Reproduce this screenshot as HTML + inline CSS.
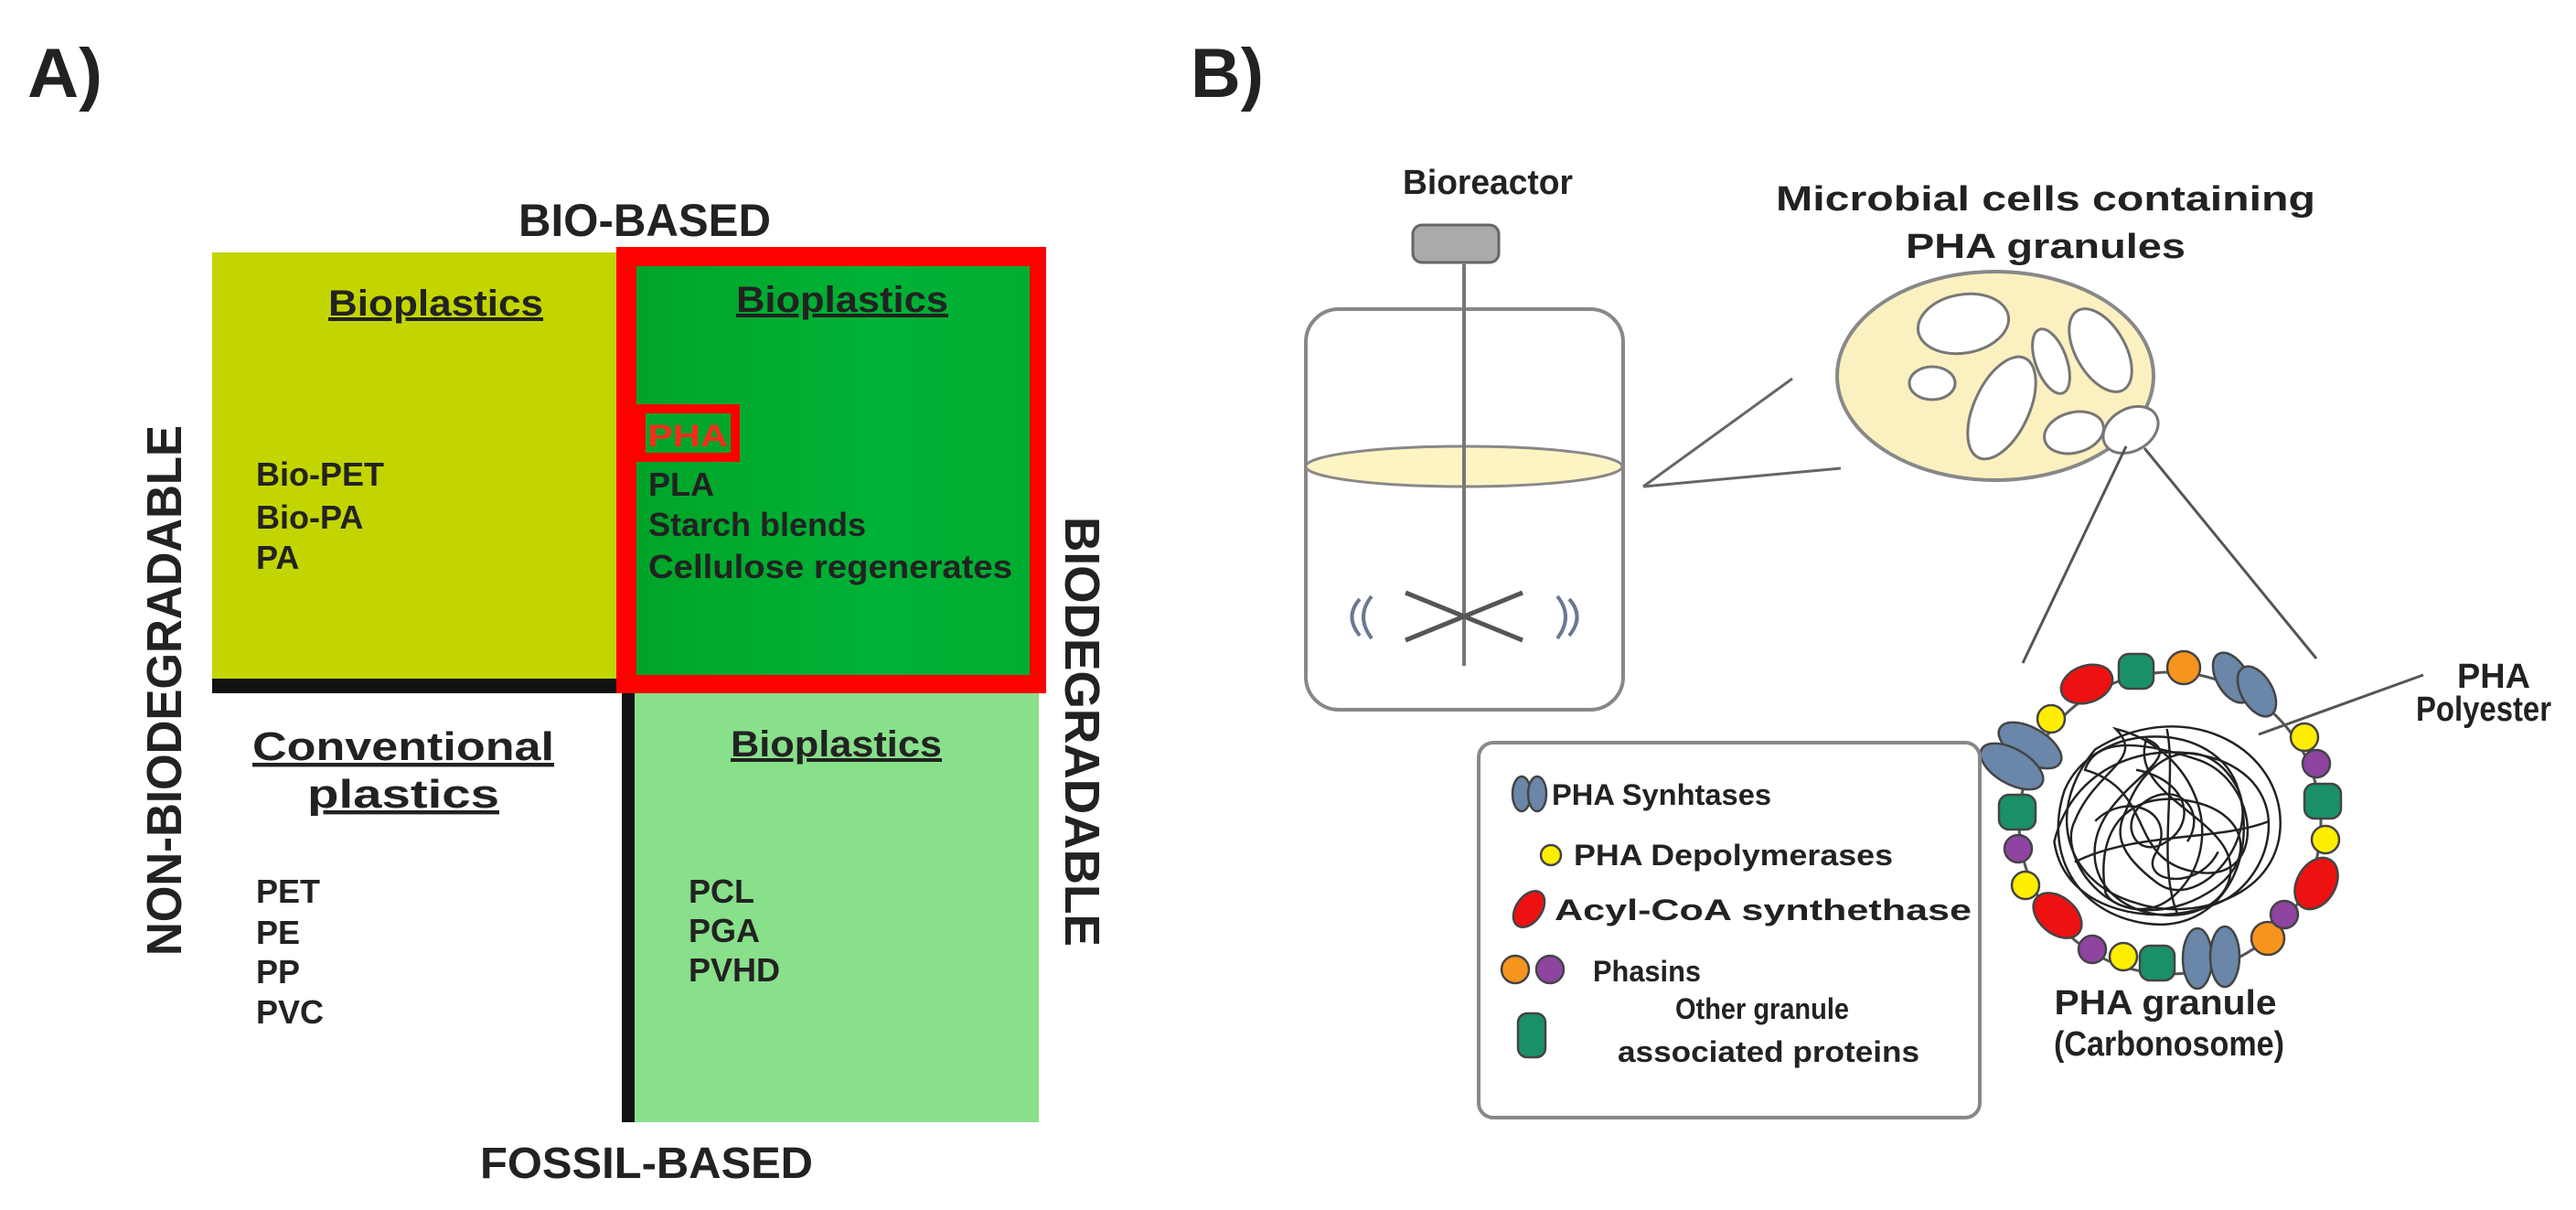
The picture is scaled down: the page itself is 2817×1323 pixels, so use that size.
<!DOCTYPE html>
<html><head><meta charset="utf-8"><style>html,body{margin:0;padding:0;background:#fff}svg{display:block}text{font-family:"Liberation Sans",Arial,sans-serif;font-weight:bold;fill:#222}</style></head>
<body>
<svg width="2817" height="1323" viewBox="0 0 2817 1323" xmlns="http://www.w3.org/2000/svg">
<!-- Panel A -->
<text x="30" y="106" font-size="76" textLength="82" lengthAdjust="spacingAndGlyphs">A)</text>
<text x="567" y="258" font-size="50" textLength="276" lengthAdjust="spacingAndGlyphs">BIO-BASED</text>
<rect x="232" y="276" width="446" height="470" fill="#c3d500"/>
<rect x="232" y="742" width="452" height="16" fill="#111"/>
<rect x="694" y="758" width="442" height="469" fill="#88e08a"/>
<rect x="680" y="752" width="14" height="475" fill="#111"/>
<rect x="674" y="270" width="470" height="488" fill="#ff0000"/>
<defs><linearGradient id="g1" x1="0" x2="1" y1="0" y2="0"><stop offset="0" stop-color="#00a428"/><stop offset="0.6" stop-color="#00b236"/><stop offset="1" stop-color="#00ad30"/></linearGradient></defs>
<rect x="696" y="291" width="430" height="447" fill="url(#g1)"/>
<rect x="690" y="442" width="119" height="63" fill="#ff0000"/>
<rect x="706" y="452" width="93" height="43" fill="#00a52a"/>
<text x="708" y="488" font-size="34" style="fill:#ff2a1a" textLength="88" lengthAdjust="spacingAndGlyphs">PHA</text>

<text x="359" y="345" font-size="40" text-decoration="underline" textLength="235" lengthAdjust="spacingAndGlyphs">Bioplastics</text>
<text x="805" y="341" font-size="40" text-decoration="underline" textLength="232" lengthAdjust="spacingAndGlyphs">Bioplastics</text>
<text x="799" y="827" font-size="40" text-decoration="underline" textLength="231" lengthAdjust="spacingAndGlyphs">Bioplastics</text>
<text x="276" y="831" font-size="44" text-decoration="underline" textLength="330" lengthAdjust="spacingAndGlyphs">Conventional</text>
<text x="336" y="883" font-size="44" text-decoration="underline" textLength="210" lengthAdjust="spacingAndGlyphs"> plastics</text>

<g font-size="36">
<text x="280" y="531">Bio-PET</text>
<text x="280" y="578">Bio-PA</text>
<text x="280" y="622">PA</text>
<text x="709" y="542">PLA</text>
<text x="709" y="586">Starch blends</text>
<text x="709" y="632" textLength="398" lengthAdjust="spacingAndGlyphs">Cellulose regenerates</text>
<text x="280" y="987">PET</text>
<text x="280" y="1032">PE</text>
<text x="280" y="1075">PP</text>
<text x="280" y="1119">PVC</text>
<text x="753" y="987">PCL</text>
<text x="753" y="1030">PGA</text>
<text x="753" y="1073">PVHD</text>
</g>
<text x="525" y="1288" font-size="48" textLength="364" lengthAdjust="spacingAndGlyphs">FOSSIL-BASED</text>
<text transform="translate(198,755) rotate(-90)" text-anchor="middle" font-size="54" textLength="580" lengthAdjust="spacingAndGlyphs">NON-BIODEGRADABLE</text>
<text transform="translate(1165,800) rotate(90)" text-anchor="middle" font-size="54" textLength="470" lengthAdjust="spacingAndGlyphs">BIODEGRADABLE</text>

<!-- Panel B -->
<text x="1302" y="106" font-size="76" textLength="80" lengthAdjust="spacingAndGlyphs">B)</text>
<text x="1534" y="212" font-size="38" textLength="186" lengthAdjust="spacingAndGlyphs">Bioreactor</text>
<rect x="1545" y="246" width="94" height="41" rx="10" fill="#a9aaac" stroke="#666" stroke-width="3"/>
<rect x="1428" y="338" width="347" height="438" rx="36" fill="#fff" stroke="#888" stroke-width="4"/>
<ellipse cx="1601" cy="510" rx="173" ry="22" fill="#fdf4c4" stroke="#888" stroke-width="3"/>
<line x1="1601" y1="287" x2="1601" y2="728" stroke="#777" stroke-width="4"/>
<line x1="1537" y1="648" x2="1665" y2="700" stroke="#555" stroke-width="5"/>
<line x1="1537" y1="700" x2="1665" y2="648" stroke="#555" stroke-width="5"/>
<g fill="none" stroke="#6a7890" stroke-width="4">
<path d="M1487 655 Q1470 674 1487 695"/><path d="M1500 652 Q1482 674 1500 698"/>
<path d="M1716 655 Q1733 674 1716 695"/><path d="M1703 652 Q1721 674 1703 698"/>
</g>
<line x1="1797" y1="532" x2="1960" y2="414" stroke="#666" stroke-width="3"/>
<line x1="1797" y1="532" x2="2013" y2="512" stroke="#666" stroke-width="3"/>

<text x="2237" y="230" font-size="38" text-anchor="middle" textLength="590" lengthAdjust="spacingAndGlyphs">Microbial cells containing</text>
<text x="2237" y="282" font-size="38" text-anchor="middle" textLength="306" lengthAdjust="spacingAndGlyphs">PHA granules</text>
<ellipse cx="2182" cy="411" rx="173" ry="114" fill="#fbf0c0" stroke="#888" stroke-width="4"/>
<g fill="#fff" stroke="#777" stroke-width="3">
<ellipse cx="2147" cy="354" rx="50" ry="32" transform="rotate(-10 2147 354)"/>
<ellipse cx="2113" cy="419" rx="25" ry="18"/>
<ellipse cx="2189" cy="446" rx="30" ry="60" transform="rotate(25 2189 446)"/>
<ellipse cx="2243" cy="395" rx="17" ry="37" transform="rotate(-20 2243 395)"/>
<ellipse cx="2297" cy="383" rx="27" ry="50" transform="rotate(-30 2297 383)"/>
<ellipse cx="2268" cy="473" rx="33" ry="22" transform="rotate(-15 2268 473)"/>
<ellipse cx="2330" cy="470" rx="32" ry="23" transform="rotate(-30 2330 470)"/>
</g>
<line x1="2325" y1="488" x2="2212" y2="725" stroke="#555" stroke-width="3"/>
<line x1="2345" y1="490" x2="2533" y2="720" stroke="#555" stroke-width="3"/>

<!-- granule -->
<g transform="translate(0,38)">
<circle cx="2373" cy="862" r="165" fill="none" stroke="#555" stroke-width="3"/>
<g fill="none" stroke="#222" stroke-width="2.2" transform="translate(2373 862) scale(1.12) translate(-2373 -862)">
<path d="M2300 790 C2380 740 2470 780 2480 850 C2490 930 2400 960 2340 940 C2270 920 2250 850 2300 790Z"/>
<path d="M2270 830 C2300 760 2420 760 2440 830 C2460 900 2420 970 2350 960 C2280 950 2250 890 2270 830Z"/>
<path d="M2320 770 C2400 790 2430 880 2380 930 C2330 980 2260 900 2280 860 C2300 810 2350 800 2320 770Z"/>
<path d="M2260 880 C2280 800 2360 780 2420 800 C2500 830 2470 920 2420 940 C2360 965 2270 950 2260 880Z"/>
<path d="M2350 780 C2330 840 2450 860 2430 920 C2410 970 2310 960 2300 900 C2290 830 2400 800 2350 780Z"/>
<path d="M2290 810 C2360 830 2330 900 2400 910 C2470 920 2460 820 2400 800 C2340 780 2300 780 2290 810Z"/>
<path d="M2330 850 C2350 790 2410 770 2440 830 C2460 880 2400 950 2360 920 C2320 890 2320 870 2330 850Z"/>
<path d="M2370 770 C2380 820 2360 900 2380 950 M2280 900 C2340 870 2420 880 2470 860"/>
<path d="M2310 930 C2300 870 2330 830 2390 840 C2450 850 2460 900 2410 930 C2370 955 2320 950 2310 930Z"/>
<path d="M2340 810 C2390 820 2400 860 2370 880 C2340 900 2320 860 2350 840 C2380 820 2410 850 2390 880"/>
<path d="M2300 860 C2330 830 2380 850 2360 890 C2340 920 2400 930 2420 890"/>
</g>
<line x1="2470" y1="765" x2="2650" y2="700" stroke="#555" stroke-width="3"/>
<g stroke="#444" stroke-width="2.5">
<ellipse cx="2282" cy="710" rx="29" ry="20" transform="rotate(-20 2282 710)" fill="#ee1111"/>
<rect x="2317" y="677" width="38" height="38" rx="11" fill="#1a9068"/>
<circle cx="2388" cy="692" r="18" fill="#f7941d"/>
<ellipse cx="2441" cy="703" rx="17" ry="30" transform="rotate(-30 2441 703)" fill="#6a86a8"/>
<ellipse cx="2468" cy="718" rx="17" ry="30" transform="rotate(-30 2468 718)" fill="#6a86a8"/>
<circle cx="2243" cy="748" r="15" fill="#ffee00"/>
<ellipse cx="2220" cy="777" rx="38" ry="19" transform="rotate(30 2220 777)" fill="#6a86a8"/>
<ellipse cx="2200" cy="800" rx="38" ry="19" transform="rotate(30 2200 800)" fill="#6a86a8"/>
<rect x="2186" y="831" width="40" height="38" rx="11" fill="#1a9068"/>
<circle cx="2207" cy="890" r="15" fill="#8e44a0"/>
<circle cx="2215" cy="930" r="15" fill="#ffee00"/>
<ellipse cx="2250" cy="963" rx="30" ry="20" transform="rotate(40 2250 963)" fill="#ee1111"/>
<circle cx="2288" cy="1000" r="15" fill="#8e44a0"/>
<circle cx="2322" cy="1008" r="15" fill="#ffee00"/>
<rect x="2340" y="996" width="38" height="38" rx="11" fill="#1a9068"/>
<ellipse cx="2403" cy="1010" rx="16" ry="33" fill="#6a86a8"/>
<ellipse cx="2433" cy="1008" rx="16" ry="33" fill="#6a86a8"/>
<circle cx="2480" cy="988" r="18" fill="#f7941d"/>
<circle cx="2498" cy="962" r="15" fill="#8e44a0"/>
<ellipse cx="2533" cy="928" rx="21" ry="30" transform="rotate(30 2533 928)" fill="#ee1111"/>
<circle cx="2543" cy="880" r="15" fill="#ffee00"/>
<rect x="2520" y="819" width="40" height="38" rx="11" fill="#1a9068"/>
<circle cx="2533" cy="797" r="15" fill="#8e44a0"/>
<circle cx="2520" cy="768" r="15" fill="#ffee00"/>
</g>
</g>
<text x="2727" y="752" font-size="38" text-anchor="middle" textLength="80" lengthAdjust="spacingAndGlyphs">PHA</text>
<text x="2716" y="788" font-size="38" text-anchor="middle" textLength="148" lengthAdjust="spacingAndGlyphs">Polyester</text>
<text x="2368" y="1109" font-size="38" text-anchor="middle" textLength="243" lengthAdjust="spacingAndGlyphs">PHA granule</text>
<text x="2372" y="1154" font-size="38" text-anchor="middle" textLength="252" lengthAdjust="spacingAndGlyphs">(Carbonosome)</text>

<!-- legend -->
<rect x="1617" y="812" width="548" height="410" rx="16" fill="#fff" stroke="#888" stroke-width="4"/>
<g stroke="#444" stroke-width="2.5">
<ellipse cx="1664" cy="868" rx="10" ry="19" fill="#6a86a8"/>
<ellipse cx="1681" cy="868" rx="10" ry="19" fill="#6a86a8"/>
<circle cx="1696" cy="935" r="11" fill="#ffee00"/>
<ellipse cx="1672" cy="994" rx="14" ry="22" transform="rotate(35 1672 994)" fill="#ee1111"/>
<circle cx="1657" cy="1060" r="15" fill="#f7941d"/>
<circle cx="1695" cy="1060" r="15" fill="#8e44a0"/>
<rect x="1660" y="1108" width="30" height="48" rx="10" fill="#1a9068"/>
</g>
<g font-size="32">
<text x="1697" y="880" textLength="240" lengthAdjust="spacingAndGlyphs">PHA Synhtases</text>
<text x="1721" y="946" textLength="349" lengthAdjust="spacingAndGlyphs">PHA Depolymerases</text>
<text x="1700" y="1006" textLength="456" lengthAdjust="spacingAndGlyphs">Acyl-CoA synthethase</text>
<text x="1742" y="1073" textLength="118" lengthAdjust="spacingAndGlyphs">Phasins</text>
<text x="1927" y="1114" text-anchor="middle" textLength="190" lengthAdjust="spacingAndGlyphs">Other granule</text>
<text x="1934" y="1161" text-anchor="middle" textLength="330" lengthAdjust="spacingAndGlyphs">associated proteins</text>
</g>
</svg>
</body></html>
